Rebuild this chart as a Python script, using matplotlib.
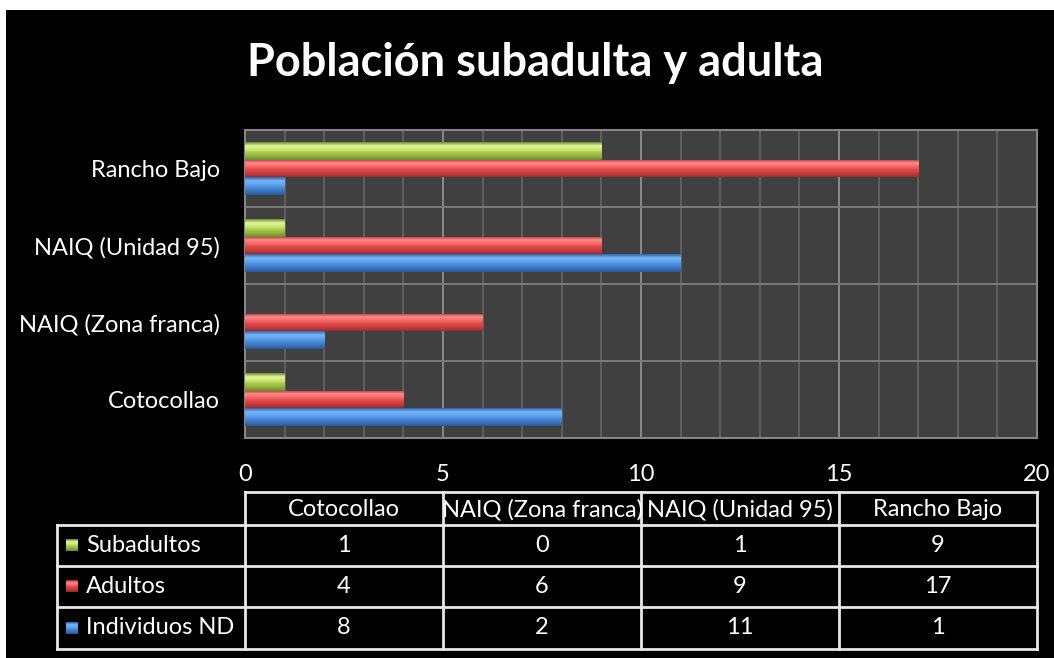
import numpy as np
import matplotlib
matplotlib.use("Agg")
import matplotlib.pyplot as plt
from matplotlib.colors import LinearSegmentedColormap
from matplotlib.patches import Rectangle

plt.rcParams['font.family'] = ['Lato', 'DejaVu Sans']

# datos
sitios = ['Cotocollao', 'NAIQ (Zona franca)', 'NAIQ (Unidad 95)', 'Rancho Bajo']
series = ['Subadultos', 'Adultos', 'Individuos ND']
subadultos = [1, 0, 1, 9]
adultos = [4, 6, 9, 17]
individuos_nd = [8, 2, 11, 1]
ticks_x = [0, 5, 10, 15, 20]

# degradados de cada serie (arriba -> abajo)
grad_verde = ['#6f8a2f', '#dff79a', '#cfe97a', '#a6c84a', '#8fb03c', '#6c8a2c']
grad_rojo = ['#a83030', '#ff8a8a', '#f86a6a', '#e04848', '#c83c3c', '#9a2c2c']
grad_azul = ['#2c62a8', '#74b6f8', '#62a6ee', '#4a8ad8', '#3a74c0', '#2a5a95']
base = ['#a6c84a', '#e04848', '#4a8ad8']

W, H = 1054, 658
fs = 17
fig = plt.figure(figsize=(W / 100, H / 100), dpi=100, facecolor='white')
fig.patches.append(Rectangle((6 / W, 0), 1 - 6 / W, 1 - 10 / H, transform=fig.transFigure,
                             facecolor='black', edgecolor='none', zorder=-10))

ax = fig.add_axes([245 / W, 1 - 438 / H, (1037 - 245) / W, (438 - 130) / H])
ax.set_facecolor('#404040')


def relleno(ax, patch, colores):
    x0, y0 = patch.get_x(), patch.get_y()
    w, h = patch.get_width(), patch.get_height()
    if w <= 0:
        return
    cmap = LinearSegmentedColormap.from_list('g', colores)
    grad = np.linspace(0, 1, 64).reshape(-1, 1)
    im = ax.imshow(grad, cmap=cmap, extent=(x0, x0 + w, y0, y0 + h),
                   aspect='auto', origin='upper', zorder=3, interpolation='bilinear')
    im.set_clip_path(patch)


y = np.arange(len(sitios))
alto = 0.23
for vals, off, col, grad in [(subadultos, alto, base[0], grad_verde),
                             (adultos, 0, base[1], grad_rojo),
                             (individuos_nd, -alto, base[2], grad_azul)]:
    barras = ax.barh(y + off, vals, height=alto, color=col, edgecolor='none', zorder=2)
    for p in barras:
        relleno(ax, p, grad)

ax.set_xlim(0, 20)
ax.set_ylim(-0.5, 3.5)

# cuadricula
ax.set_xticks(ticks_x)
ax.set_xticks(np.arange(0, 21, 1), minor=True)
ax.set_yticks(y)
ax.set_yticks(np.arange(-0.5, 4, 1), minor=True)
ax.grid(which='minor', axis='x', color='#666666', lw=1.2, zorder=0)
ax.grid(which='major', axis='x', color='#8a8a8a', lw=1.4, zorder=0)
ax.grid(which='minor', axis='y', color='#7a7a7a', lw=1.4, zorder=0)
ax.set_axisbelow(True)
for s in ax.spines.values():
    s.set_color('#858585')
    s.set_linewidth(1.5)

ax.set_yticklabels(sitios, color='white', fontsize=fs)
ax.set_xticklabels([str(t) for t in ticks_x], color='white', fontsize=fs)
ax.tick_params(which='both', length=0)
ax.tick_params(axis='y', pad=18)
ax.tick_params(axis='x', pad=19)

fig.text(535 / W, 1 - 63 / H, 'Población subadulta y adulta', color='white',
         fontsize=32.5, fontweight='bold', ha='center', va='center')

# tabla de datos debajo del grafico
tab = fig.add_axes([0, 0, 1, 1])
tab.axis('off')
tab.patch.set_alpha(0)

col_x = [245, 443, 641, 839, 1037]
fila_y = [492, 525, 566, 607, 649]
izq = 57
lc = dict(color='#e8e8e8', lw=2)
tab.plot([col_x[0], col_x[-1]], [fila_y[0], fila_y[0]], **lc)
for yy in fila_y[1:]:
    tab.plot([izq, col_x[-1]], [yy, yy], **lc)
tab.plot([izq, izq], [fila_y[1], fila_y[-1]], **lc)
for xx in col_x:
    tab.plot([xx, xx], [fila_y[0], fila_y[-1]], **lc)

for i, s in enumerate(sitios):
    tab.text((col_x[i] + col_x[i + 1]) / 2, (fila_y[0] + fila_y[1]) / 2 + 1, s,
             color='white', fontsize=fs, ha='center', va='center')

for j, (nombre, vals, grad) in enumerate(zip(series, [subadultos, adultos, individuos_nd],
                                             [grad_verde, grad_rojo, grad_azul])):
    yc = (fila_y[j + 1] + fila_y[j + 2]) / 2
    cm = LinearSegmentedColormap.from_list('m', grad)
    tab.imshow(np.linspace(0, 1, 16).reshape(-1, 1), cmap=cm, aspect='auto',
               extent=(66, 78, yc + 6, yc - 6), origin='upper', zorder=3)
    tab.text(86, yc, nombre, color='white', fontsize=fs, ha='left', va='center')
    for i, v in enumerate(vals):
        tab.text((col_x[i] + col_x[i + 1]) / 2, yc, str(v), color='white',
                 fontsize=fs, ha='center', va='center')
tab.set_xlim(0, W)
tab.set_ylim(H, 0)

fig.savefig('out.png', dpi=100, facecolor=fig.get_facecolor())
